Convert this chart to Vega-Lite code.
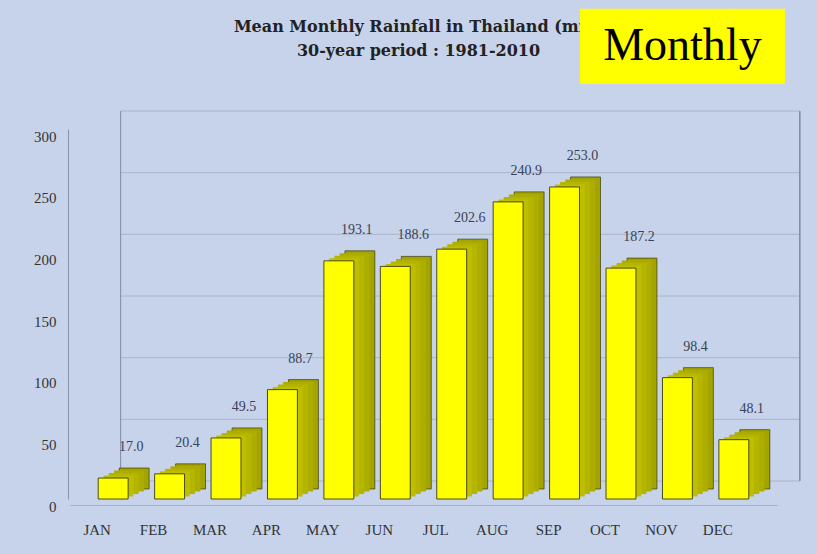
{
  "$schema": "https://vega.github.io/schema/vega-lite/v6.json",
  "autosize": {"type": "none"},
  "padding": {"left": 70, "top": 129, "right": 40, "bottom": 55},
  "width": 707,
  "height": 370,
  "background": "#c6d3eb",
  "config": {
    "view": {"stroke": null},
    "font": "Liberation Serif"
  },
  "datasets": {
    "rain": [
      {"month": "JAN", "value": 17.0},
      {"month": "FEB", "value": 20.4},
      {"month": "MAR", "value": 49.5},
      {"month": "APR", "value": 88.7},
      {"month": "MAY", "value": 193.1},
      {"month": "JUN", "value": 188.6},
      {"month": "JUL", "value": 202.6},
      {"month": "AUG", "value": 240.9},
      {"month": "SEP", "value": 253.0},
      {"month": "OCT", "value": 187.2},
      {"month": "NOV", "value": 98.4},
      {"month": "DEC", "value": 48.1}
    ],
    "grid": [
      {"tick": 0}, {"tick": 50}, {"tick": 100}, {"tick": 150}, {"tick": 200}, {"tick": 250}, {"tick": 300}
    ],
    "walls": [
      {"month": "JAN", "off": "left"},
      {"month": "DEC", "off": "right"}
    ],
    "titles": [
      {"line": "Mean Monthly Rainfall in Thailand (mm)", "value": 382.5},
      {"line": "30-year period : 1981-2010", "value": 363}
    ],
    "note": [{"month": "NOV", "value": 367, "label": "Monthly"}]
  },
  "encoding": {
    "x": {
      "field": "month",
      "type": "nominal",
      "sort": ["JAN","FEB","MAR","APR","MAY","JUN","JUL","AUG","SEP","OCT","NOV","DEC"],
      "scale": {"paddingInner": 0.47, "paddingOuter": 0.5},
      "axis": {
        "title": null,
        "labelAngle": 0,
        "ticks": false,
        "domain": true,
        "domainColor": "#a9b0bc",
        "offset": 6,
        "labelFont": "Liberation Serif",
        "labelFontSize": 15,
        "labelColor": "#333333",
        "labelPadding": 17,
        "labelOffset": -16
      }
    }
  },
  "layer": [
    {
      "data": {"name": "grid"},
      "mark": {"type": "rule", "xOffset": 7.5, "x2Offset": 66, "yOffset": -18, "y2Offset": -18, "color": "#a3adc0", "strokeWidth": 0.8},
      "encoding": {
        "x": {"datum": "JAN"},
        "x2": {"datum": "DEC"},
        "y": {"field": "tick", "type": "quantitative", "scale": {"domain": [0, 300]},
          "axis": {"title": null, "values": [0,50,100,150,200,250,300], "grid": false, "ticks": false, "domain": true, "domainColor": "#8a93a3",
            "offset": 2, "labelFont": "Liberation Serif", "labelFontSize": 15, "labelColor": "#333333", "labelPadding": 12, "labelOffset": 7}}
      }
    },
    {
      "data": {"name": "walls"},
      "transform": [{"filter": "datum.off === 'left'"}],
      "mark": {"type": "rule", "xOffset": 7.5, "yOffset": -18, "y2Offset": -18, "color": "#7f8aa0", "strokeWidth": 1},
      "encoding": {
        "x": {"field": "month", "type": "nominal"},
        "y": {"datum": 0},
        "y2": {"datum": 300}
      }
    },
    {
      "data": {"name": "walls"},
      "transform": [{"filter": "datum.off === 'right'"}],
      "mark": {"type": "rule", "xOffset": 66, "yOffset": -18, "y2Offset": -18, "color": "#7f8aa0", "strokeWidth": 1.5},
      "encoding": {
        "x": {"field": "month", "type": "nominal"},
        "y": {"datum": 0},
        "y2": {"datum": 300}
      }
    },
    {
      "data": {"name": "rain"},
      "mark": {"type": "bar", "xOffset": 21, "x2Offset": 21, "yOffset": -10, "y2Offset": -10, "color": "#a4a400", "stroke": "#3a3a10", "strokeWidth": 0.7},
      "encoding": {"y": {"field": "value", "type": "quantitative"}}
    },
    {
      "data": {"name": "rain"},
      "mark": {"type": "bar", "xOffset": 15.75, "x2Offset": 15.75, "yOffset": -7.5, "y2Offset": -7.5, "color": "#adad00"},
      "encoding": {"y": {"field": "value", "type": "quantitative"}}
    },
    {
      "data": {"name": "rain"},
      "mark": {"type": "bar", "xOffset": 10.5, "x2Offset": 10.5, "yOffset": -5, "y2Offset": -5, "color": "#b5b500"},
      "encoding": {"y": {"field": "value", "type": "quantitative"}}
    },
    {
      "data": {"name": "rain"},
      "mark": {"type": "bar", "xOffset": 5.25, "x2Offset": 5.25, "yOffset": -2.5, "y2Offset": -2.5, "color": "#bebe00"},
      "encoding": {"y": {"field": "value", "type": "quantitative"}}
    },
    {
      "data": {"name": "rain"},
      "mark": {"type": "bar", "color": "#ffff00", "stroke": "#3a3a10", "strokeWidth": 0.9},
      "encoding": {"y": {"field": "value", "type": "quantitative"}}
    },
    {
      "data": {"name": "rain"},
      "mark": {"type": "text", "font": "Liberation Serif", "fontSize": 14, "color": "#3a4255", "dx": 18, "dy": -31, "baseline": "middle"},
      "encoding": {
        "y": {"field": "value", "type": "quantitative"},
        "text": {"field": "value", "type": "quantitative", "format": ".1f"}
      }
    },
    {
      "data": {"name": "titles"},
      "mark": {"type": "text", "font": "DejaVu Serif", "fontSize": 16, "fontWeight": "bold", "color": "#222222", "dx": -5, "baseline": "middle", "align": "center", "clip": false},
      "encoding": {
        "x": null,
        "y": {"field": "value", "type": "quantitative"},
        "text": {"field": "line"}
      }
    },
    {
      "data": {"name": "note"},
      "mark": {"type": "point", "shape": "M-1,-0.366L1,-0.366L1,0.366L-1,0.366Z", "size": 42025, "filled": true, "color": "#ffff00", "opacity": 1, "xOffset": 5, "clip": false},
      "encoding": {"y": {"field": "value", "type": "quantitative"}}
    },
    {
      "data": {"name": "note"},
      "mark": {"type": "text", "font": "Liberation Serif", "fontSize": 46, "color": "#000000", "xOffset": 5, "baseline": "middle", "clip": false},
      "encoding": {
        "y": {"field": "value", "type": "quantitative"},
        "text": {"field": "label"}
      }
    }
  ]
}
